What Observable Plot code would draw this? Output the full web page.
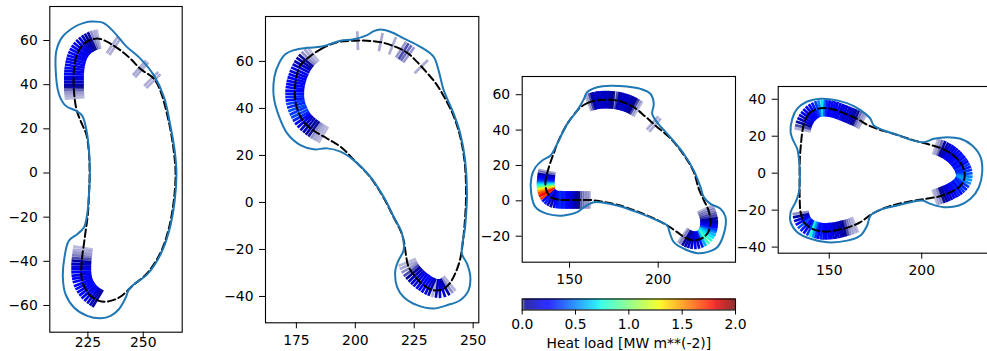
<!DOCTYPE html>
<html><head><meta charset="utf-8">
<script src="https://cdn.jsdelivr.net/npm/d3@7"></script>
<script src="https://cdn.jsdelivr.net/npm/@observablehq/plot@0.6"></script>
<style>
body{margin:0;background:#fff;}
#fig{position:relative;width:987px;height:351px;overflow:hidden;font-family:"DejaVu Sans",sans-serif;background:#fff;}
#fig > svg, #fig > figure{position:absolute;margin:0;}
</style></head><body><div id="fig"></div>
<script>
// ---------------- DATA ----------------
// Panel 1
const p1Wall = [[227.0,68.6],[232.2,67.9],[236.8,63.8],[242.0,57.7],[248.8,51.7],[254.9,44.1],[259.4,34.3],[262.4,20.7],[264.2,10.1],[265.0,0],[264.2,-12.6],[261.7,-26.2],[257.9,-36.7],[251.9,-45.8],[245.8,-50.4],[243.6,-52.6],[242.1,-56.4],[239.0,-61.7],[235.3,-64.7],[230.7,-65.8],[224.7,-64.7],[218.7,-60.9],[214.9,-54.9],[213.7,-47.3],[214.4,-38.3],[216.4,-30.7],[220.2,-27.7],[223.2,-24.7],[224.7,-18.6],[225.5,-9.5],[225.9,0],[225.5,10.1],[224.4,19.2],[222.4,26.0],[219.4,28.3],[214.9,30.5],[211.9,35.8],[210.4,47.9],[210.8,55.5],[213.4,61.5],[218.7,66.0],[223.2,68.0]];
const p1Sep = [[223.2,58.5],[227.7,60.7],[230.7,60.7],[235.3,58.5],[239.8,55.5],[244.3,51.7],[248.8,47.1],[254.9,42.6],[258.0,36.5],[261.8,22],[263.8,10],[264.6,0],[263.8,-12.6],[261.3,-26.2],[257.5,-36.7],[251.6,-45.6],[245.5,-50.8],[243.1,-53.1],[240.5,-55.5],[237.5,-57.2],[233.8,-58.2],[230.0,-57.9],[226.2,-55.6],[224.0,-52.6],[222.4,-48.8],[222.0,-44.3],[222.4,-38.3],[223.2,-32.2],[224.0,-26.2],[225.0,-18.6],[225.5,-9.5],[225.8,0],[225.4,10.1],[224.3,17.5],[222.4,22],[220.0,28.2],[218.7,37.3],[218.7,46.4],[220.2,53.9]];
const p1StrikeTop = [[219.0,34.0,.003],[218.9,35.2,.005],[218.8,36.4,.008],[218.7,37.6,.015],[218.7,38.8,.03],[218.7,40.0,.08],[218.7,41.2,.12],[218.7,42.4,.15],[218.7,43.6,.18],[218.7,44.8,.22],[218.8,46.0,.18],[218.9,47.2,.22],[219.1,48.4,.18],[219.3,49.6,.22],[219.6,50.8,.2],[219.9,52.0,.24],[220.3,53.1,.2],[220.8,54.2,.22],[221.4,55.2,.18],[222.1,56.2,.2],[222.9,57.1,.15],[223.8,57.9,.16],[224.8,58.6,.1],[225.8,59.2,.07],[226.8,59.7,.03],[227.8,60.1,.01],[228.8,60.4,.005],[229.8,60.6,.003]];
const p1StrikeBottom = [[222.8,-34.0,.003],[222.6,-35.2,.005],[222.5,-36.4,.008],[222.3,-37.6,.012],[222.2,-38.8,.02],[222.1,-40.0,.06],[222.0,-41.2,.12],[222.0,-42.4,.15],[222.0,-43.6,.18],[222.0,-44.8,.22],[222.1,-46.0,.18],[222.3,-47.2,.22],[222.5,-48.4,.2],[222.9,-49.6,.24],[223.4,-50.7,.26],[224.0,-51.8,.22],[224.7,-52.8,.26],[225.5,-53.8,.18],[226.4,-54.7,.22],[227.4,-55.5,.14],[228.4,-56.2,.1],[229.4,-56.8,.06]];
const p1StrikeIso = [[[236.0,58.0,.005],[237.2,57.2,.005]],[[248.3,47.6,.005],[249.3,46.7,.005]],[[253.6,42.6,.005],[254.6,41.6,.005]]];

// Panel 2
const p2Wall = [[173.9,64.8],[179.6,65.8],[185.2,66.2],[189.4,67.4],[193.7,68.8],[199.3,69.4],[205.0,71.2],[207.8,72.9],[210.6,73.6],[214.9,72.6],[220.5,69.8],[227.6,66.2],[233.2,62.0],[235.3,56.3],[237.5,47.8],[241.7,37.9],[244.5,29.4],[246.6,18.0],[247.4,3.8],[246.6,-10.4],[245.2,-21.7],[247.4,-26.0],[248.8,-31.6],[248.1,-37.3],[244.5,-41.6],[238.9,-43.7],[233.2,-45.1],[226.2,-43.7],[220.5,-40.2],[217.7,-35.9],[217.0,-28.8],[218.4,-24.5],[220.5,-20.3],[219.8,-13.2],[216.3,-6.1],[212.0,2.4],[206.4,10.9],[199.3,18.0],[193.7,21.6],[188.0,23.0],[182.4,22.6],[176.7,24.4],[171.1,29.4],[167.6,36.7],[165.4,45.0],[165.7,53.5],[167.6,59.1],[170.4,63.1]];
const p2Sep = [[181.0,62.3],[185.2,65.1],[189.4,67.2],[193.7,68.4],[199.3,68.8],[205.0,68.8],[210.6,68.2],[216.3,66.5],[222.0,63.7],[226.2,59.8],[230.4,55.2],[233.9,51.0],[236.8,46.5],[241.3,37.8],[244.2,29.2],[246.3,18],[247.0,4],[246.3,-10.4],[245.0,-21.5],[244.2,-25.3],[242.4,-30.2],[240.0,-34.5],[236.8,-37.0],[233.2,-37.3],[229.0,-35.2],[225.5,-31.6],[222.6,-27.4],[221.5,-22.4],[220.8,-17.5],[219.6,-13],[216.1,-6],[211.8,2.4],[206.2,10.9],[200.0,17.5],[193.7,23.7],[188.0,27.2],[182.4,30.5],[178.1,34.3],[175.3,40.0],[174.3,46.4],[174.9,52.8],[176.7,58.4]];
const p2StrikeLeft = [[182.0,63.0,.003],[181.0,62.2,.006],[180.0,61.3,.01],[179.1,60.3,.03],[178.3,59.3,.07],[177.6,58.2,.12],[177.0,57.0,.15],[176.4,55.8,.2],[175.9,54.6,.16],[175.5,53.4,.22],[175.1,52.2,.2],[174.8,51.0,.25],[174.6,49.8,.22],[174.4,48.6,.26],[174.3,47.4,.22],[174.3,46.2,.28],[174.3,45.0,.32],[174.4,43.8,.28],[174.6,42.6,.36],[174.9,41.4,.32],[175.3,40.2,.4],[175.8,39.0,.35],[176.4,37.8,.38],[177.0,36.6,.32],[177.7,35.5,.24],[178.5,34.5,.18],[179.4,33.6,.12],[180.4,32.8,.09],[181.4,32.0,.06],[182.4,31.3,.03],[183.4,30.6,.01],[184.4,30.0,.006],[185.4,29.4,.004],[186.4,28.8,.003]];
const p2StrikeBottom = [[222.0,-25.5,.003],[222.5,-26.7,.006],[223.1,-27.9,.01],[223.8,-29.0,.02],[224.6,-30.0,.06],[225.5,-31.0,.1],[226.4,-31.9,.14],[227.3,-32.7,.16],[228.3,-33.5,.2],[229.3,-34.2,.25],[230.3,-34.9,.2],[231.4,-35.5,.15],[232.5,-36.0,.1],[233.6,-36.4,.005],[234.7,-36.6,.1],[235.8,-36.7,.14],[236.9,-36.5,.15],[238.0,-36.0,.07],[239.0,-35.3,.01],[240.0,-34.5,.004]];
const p2StrikeIso = [[[201.0,68.8,.005]],[[210.8,68.2,.006]],[[215.8,66.7,.005]],[[219.4,65.0,.008],[220.5,64.3,.02],[221.6,63.6,.015],[222.7,62.8,.008]],[[228.0,57.8,.005]]];

// Panel 3
const p3Wall = [[159.9,61.4],[165.6,64.2],[173.1,65.1],[182.5,64.6],[190.0,63.3],[195.7,60.4],[197.5,54.8],[196.6,49.1],[199.4,44.4],[206.9,35.9],[214.5,26.5],[220.1,17.1],[223.9,7.7],[225.7,2.1],[229.5,-1.7],[235.1,-4.5],[238.0,-9.2],[237.0,-18.7],[233.3,-26.2],[227.6,-29.0],[222.0,-29.6],[214.5,-27.1],[208.8,-23.4],[206.4,-17.7],[205.1,-14.0],[199.4,-11.1],[188.1,-6.4],[176.9,-2.6],[167.5,-0.8],[163.7,-0.8],[159.0,-3.0],[154.3,-6.4],[146.8,-8.3],[137.4,-7.4],[130.8,-3.6],[128.4,4.0],[128.5,13.4],[130.8,19.0],[134.6,22.8],[139.3,25.6],[143.0,32.2],[148.7,43.5],[154.3,51.0],[158.1,57.6]];
const p3Sep = [[156.2,52.9],[160.0,55.2],[164.6,56.7],[171.2,57.2],[178.7,56.3],[186.3,52.9],[192.8,47.6],[198.5,42.5],[206.6,35.6],[214.2,26.3],[219.8,17],[222.9,6.8],[225.8,0.2],[228.4,-5.5],[229.5,-12.1],[228.2,-17.7],[225.2,-20.9],[220.5,-22.4],[215.4,-20.9],[210.7,-17.7],[205.4,-14.1],[199.4,-10.8],[188.1,-6.0],[176.9,-2.2],[167.5,-0.3],[162.8,0.4],[156.2,0.5],[149.6,0.5],[143.4,0.7],[139.3,2.2],[137.0,5.8],[136.4,10.5],[137.8,17.1],[139.6,22.8],[141.5,28.0],[143.0,32.2],[148.7,43.5],[154.3,51]];
const p3StrikeTop = [[160.5,55.4,.003],[161.5,55.8,.005],[162.5,56.1,.02],[163.5,56.4,.07],[164.5,56.7,.1],[165.5,56.9,.13],[166.5,57.0,.1],[167.5,57.1,.13],[168.5,57.2,.11],[169.5,57.2,.13],[170.5,57.2,.1],[171.5,57.2,.12],[172.5,57.2,.09],[173.5,57.1,.06],[174.5,57.0,.03],[175.5,56.9,.004],[176.5,56.8,.02],[177.5,56.6,.07],[178.5,56.4,.1],[179.5,56.1,.13],[180.5,55.8,.11],[181.5,55.5,.13],[182.5,55.2,.1],[183.5,54.8,.09],[184.5,54.3,.07],[185.5,53.8,.04],[186.5,53.2,.02],[187.5,52.6,.005],[188.5,52.0,.003]];
const p3StrikeLeft = [[137.3,16.5,.005],[137.1,15.5,.01],[136.9,14.5,.06],[136.8,13.5,.14],[136.7,12.5,.22],[136.6,11.5,.32],[136.5,10.5,.45],[136.5,9.6,.65],[136.5,8.7,.8],[136.6,7.9,1.0],[136.7,7.1,1.25],[136.8,6.3,1.45],[137.0,5.5,1.65],[137.3,4.6,1.8],[137.8,3.7,1.7],[138.4,2.9,0.25],[139.1,2.2,0.3],[140.0,1.6,0.14],[141.0,1.1,0.1],[142.1,0.8,0.22],[143.2,0.7,0.28],[144.3,0.6,0.32],[145.3,0.6,0.32],[146.3,0.5,0.28],[147.3,0.5,0.32],[148.3,0.5,0.25],[149.3,0.5,0.22],[150.3,0.5,0.18],[151.3,0.5,0.15],[152.3,0.5,0.12],[153.3,0.5,0.09],[154.3,0.5,0.06],[155.3,0.5,0.03],[156.3,0.5,0.01],[157.3,0.5,0.008],[158.3,0.5,0.005],[159.3,0.5,0.005],[160.3,0.5,0.004],[161.3,0.5,0.003]];
const p3StrikeRight = [[226.6,-4.5,.003],[227.1,-5.5,.005],[227.5,-6.5,.008],[227.9,-7.5,.01],[228.2,-8.5,.015],[228.5,-9.5,.02],[228.7,-10.5,.06],[228.8,-11.5,.09],[228.8,-12.5,.12],[228.7,-13.5,.18],[228.6,-14.5,.26],[228.4,-15.5,.36],[228.1,-16.5,.5],[227.8,-17.5,.6],[227.2,-18.5,.7],[226.5,-19.6,.8],[225.6,-20.5,.85],[224.5,-21.2,.6],[223.3,-21.8,.3],[222.0,-22.2,.16],[220.8,-22.4,.22],[219.5,-22.3,.12],[218.3,-22.0,.14],[217.2,-21.6,.09],[216.1,-21.0,.05],[215.0,-20.3,.01],[214.0,-19.6,.005]];
const p3StrikeIso = [[[196.8,44.0,.005],[198.2,42.8,.005]]];

// Panel 4
const p4Wall = [[145.3,40.3],[154.3,39.4],[163.3,36.3],[169.6,32.1],[172.3,29.4],[174.1,25.8],[179.5,23.1],[186.7,20.8],[194.0,18.1],[201.2,16.8],[206.6,18.6],[213.8,19.5],[221.0,18.6],[227.3,15.0],[231.8,8.7],[232.7,0.5],[230.9,-7.6],[226.4,-13.9],[220.1,-17.5],[212.0,-18.4],[204.8,-16.6],[200.3,-14.8],[194.0,-15.7],[186.7,-17.5],[177.7,-19.7],[172.3,-22.9],[170.5,-28.3],[166.9,-33.7],[159.7,-36.5],[148.9,-37.4],[139.9,-35.5],[132.7,-31.9],[129.1,-26.5],[129.1,-21.1],[131.8,-15.7],[133.6,-10.3],[134.1,-1.3],[133.6,7.8],[132.7,13.2],[130.5,17.7],[129.1,22.2],[130.0,29.4],[132.7,34.9],[138.1,38.8]];
const p4Sep = [[136.6,27.6],[139.0,32.1],[142.6,34.5],[147.1,35.2],[152.5,34.5],[158.8,32.1],[165.1,29.4],[170.5,26.2],[175.9,24.0],[183.1,21.8],[190.3,19.5],[197.6,17.2],[204.8,15.3],[211.1,13.2],[216.5,10.1],[220.6,6.0],[223.1,0.9],[222.8,-3.9],[220.1,-7.6],[215.6,-10.3],[209.3,-12.6],[202.1,-13.9],[194.0,-15.2],[186.7,-16.8],[179.5,-19.0],[172.3,-22.6],[166.9,-26.5],[160.6,-29.2],[153.4,-31.0],[147.1,-31.6],[140.8,-30.1],[136.3,-26.5],[134.5,-21.1],[134.0,-12.1],[134.0,-1.3],[134.1,7.8],[134.8,16.8],[135.4,22.2]];
const p4StrikeTop = [[135.6,23.5,.005],[135.9,25.0,.02],[136.3,26.5,.07],[136.9,28.0,.13],[137.6,29.3,.16],[138.4,30.6,.2],[139.3,31.7,.25],[140.3,32.7,.22],[141.4,33.5,.26],[142.6,34.2,.3],[143.8,34.7,.36],[145.0,35.0,.5],[146.2,35.2,.7],[147.4,35.2,.45],[148.6,35.1,.3],[149.8,35.0,.25],[151.0,34.8,.22],[152.2,34.5,.26],[153.4,34.2,.2],[154.6,33.8,.24],[155.8,33.3,.16],[157.0,32.8,.2],[158.2,32.4,.13],[159.4,31.9,.16],[160.6,31.4,.1],[161.8,30.9,.12],[163.0,30.4,.07],[164.2,29.9,.03],[165.4,29.3,.015],[166.6,28.6,.008],[167.8,27.9,.004]];
const p4StrikeBottom = [[134.6,-21.5,.01],[134.8,-23.0,.07],[135.2,-24.5,.15],[135.8,-25.8,.25],[136.6,-27.0,.4],[137.6,-28.1,.3],[138.7,-29.0,.25],[139.9,-29.7,.35],[141.1,-30.2,.75],[142.3,-30.6,.55],[143.5,-30.9,.35],[144.7,-31.2,.25],[145.9,-31.4,.3],[147.1,-31.5,.25],[148.3,-31.5,.2],[149.5,-31.4,.25],[150.7,-31.3,.2],[151.9,-31.2,.16],[153.1,-31.0,.13],[154.3,-30.8,.15],[155.5,-30.5,.1],[156.7,-30.2,.07],[157.9,-29.9,.04],[159.1,-29.6,.02],[160.3,-29.3,.01],[161.5,-28.9,.006],[162.7,-28.4,.004],[163.9,-27.9,.003]];
const p4StrikeRight = [[207.5,14.4,.003],[208.7,14.0,.006],[209.9,13.6,.015],[211.1,13.2,.05],[212.3,12.6,.1],[213.4,12.0,.13],[214.5,11.3,.2],[215.5,10.6,.16],[216.5,9.9,.25],[217.4,9.1,.2],[218.3,8.2,.25],[219.1,7.3,.3],[219.9,6.4,.25],[220.6,5.4,.3],[221.3,4.3,.25],[221.9,3.2,.35],[222.4,2.0,.3],[222.8,0.8,.35],[223.0,-0.4,.4],[223.0,-1.6,.5],[222.8,-2.8,.55],[222.4,-4.0,.5],[221.8,-5.1,.35],[221.0,-6.1,.3],[220.1,-7.0,.35],[219.1,-7.8,.25],[218.0,-8.5,.3],[216.9,-9.2,.2],[215.7,-9.8,.25],[214.5,-10.4,.13],[213.3,-10.9,.15],[212.1,-11.4,.07],[210.9,-11.9,.03],[209.7,-12.3,.01],[208.5,-12.7,.005],[207.3,-13.1,.003]];

// Axes ticks and colorbar
const p1XTicks = [225, 250], p1YTicks = [-60, -40, -20, 0, 20, 40, 60];
const p2XTicks = [175, 200, 225, 250], p2YTicks = [-40, -20, 0, 20, 40, 60];
const p3XTicks = [150, 200], p3YTicks = [-20, 0, 20, 40, 60];
const p4XTicks = [150, 200], p4YTicks = [-40, -20, 0, 20, 40];
const cbTicks = [0, 0.5, 1.0, 1.5, 2.0];
const cbDomain = [0, 2];
const cbLabel = "Heat load [MW m**(-2)]";

// ---------------- HELPERS ----------------
const jetR = [[0,0],[0.35,0],[0.66,1],[0.89,1],[1,0.5]];
const jetG = [[0,0],[0.125,0],[0.375,1],[0.64,1],[0.91,0],[1,0]];
const jetB = [[0,0.5],[0.11,1],[0.34,1],[0.65,0],[1,0]];
function pw(stops, t) {
  t = Math.max(0, Math.min(1, t));
  for (let i = 1; i < stops.length; i++) {
    if (t <= stops[i][0]) {
      const [a0, v0] = stops[i-1], [a1, v1] = stops[i];
      return v0 + (v1 - v0) * (t - a0) / (a1 - a0);
    }
  }
  return stops[stops.length-1][1];
}
function jet(t) {
  return d3.rgb(255*pw(jetR,t), 255*pw(jetG,t), 255*pw(jetB,t)).formatHex();
}
const alpha = v => Math.min(1, 0.2 + v * 25);
const fmt = d => d < 0 ? "\u2212" + Math.abs(d) : String(d);

function ticksFrom(strikes, sep, L) {
  const out = [];
  for (const s of strikes) {
    s.forEach((p, i) => {
      let tx, ty;
      if (s.length > 1) {
        const a = s[Math.max(0, i-1)], b = s[Math.min(s.length-1, i+1)];
        tx = b[0]-a[0]; ty = b[1]-a[1];
      } else {
        let k = 0, best = Infinity;
        sep.forEach((q, j) => { const d = (q[0]-p[0])**2 + (q[1]-p[1])**2; if (d < best) { best = d; k = j; } });
        const a = sep[(k-1+sep.length)%sep.length], b = sep[(k+1)%sep.length];
        tx = b[0]-a[0]; ty = b[1]-a[1];
      }
      const n = Math.hypot(tx, ty), nx = -ty/n, ny = tx/n;
      out.push({x1: p[0]-nx*L/2, y1: p[1]-ny*L/2, x2: p[0]+nx*L/2, y2: p[1]+ny*L/2, v: p[2]});
    });
  }
  return out;
}

const fig = document.getElementById("fig");
const style = {background: "none", fontFamily: "DejaVu Sans, sans-serif", fontSize: "13.9px", overflow: "visible", color: "black"};
const colorOpt = {type: "linear", domain: cbDomain, interpolate: jet, clamp: true};

function panel(cfg) {
  const segs = ticksFrom(cfg.strikes, cfg.sep, cfg.L);
  const p = Plot.plot({
    width: cfg.w, height: cfg.h,
    marginLeft: cfg.ml, marginRight: cfg.mr, marginTop: cfg.mt, marginBottom: cfg.mb,
    style,
    x: {domain: cfg.xd}, y: {domain: cfg.yd},
    color: colorOpt,
    marks: [
      Plot.link(segs, {x1: "x1", y1: "y1", x2: "x2", y2: "y2", stroke: "v", strokeOpacity: d => alpha(d.v), strokeWidth: 2.7}),
      Plot.line(cfg.sep, {x: d => d[0], y: d => d[1], curve: "catmull-rom-closed", stroke: "black", strokeWidth: 2, strokeDasharray: "7.5,3.5"}),
      Plot.line(cfg.wall, {x: d => d[0], y: d => d[1], curve: "catmull-rom-closed", stroke: "#1f77b4", strokeWidth: 2}),
      Plot.frame({stroke: "black", strokeWidth: 1.1}),
      Plot.axisX({ticks: cfg.xt, tickSize: 6, tickPadding: cfg.xpad ?? 6, label: null, tickFormat: fmt}),
      Plot.axisY({ticks: cfg.yt, tickSize: 6, tickPadding: 6, label: null, tickFormat: fmt})
    ]
  });
  p.style.left = cfg.left + "px"; p.style.top = cfg.top + "px";
  fig.appendChild(p);
}

panel({left: 0, top: 0, w: 200, h: 351, ml: 49.3, mr: 18.3, mt: 6, mb: 19.3, xpad: -1.5,
  xd: [207.8, 267.6], yd: [-72.1, 75.4], xt: p1XTicks, yt: p1YTicks,
  wall: p1Wall, sep: p1Sep, strikes: [p1StrikeTop, p1StrikeBottom, ...p1StrikeIso], L: 9});
panel({left: 210, top: 0, w: 290, h: 351, ml: 55, mr: 21.7, mt: 16, mb: 28.7,
  xd: [161.9, 252.4], yd: [-51.2, 79.1], xt: p2XTicks, yt: p2YTicks,
  wall: p2Wall, sep: p2Sep, strikes: [p2StrikeLeft, p2StrikeBottom, ...p2StrikeIso], L: 8});
panel({left: 480, top: 0, w: 270, h: 290, ml: 41.7, mr: 15, mt: 76, mb: 28.3,
  xd: [123.3, 243.6], yd: [-34.7, 70.3], xt: p3XTicks, yt: p3YTicks,
  wall: p3Wall, sep: p3Sep, strikes: [p3StrikeTop, p3StrikeLeft, p3StrikeRight, ...p3StrikeIso], L: 10});
panel({left: 740, top: 0, w: 250, h: 351, ml: 37.7, mr: 2, mt: 86, mb: 98.3,
  xd: [122.4, 236.1], yd: [-43.3, 46.9], xt: p4XTicks, yt: p4YTicks,
  wall: p4Wall, sep: p4Sep, strikes: [p4StrikeTop, p4StrikeBottom, p4StrikeRight], L: 9});

// Colorbar
const cbSteps = d3.range(cbDomain[0], cbDomain[1], 0.005);
const cb = Plot.plot({
  width: 270, height: 61, marginLeft: 41.7, marginRight: 15, marginTop: 8.5, marginBottom: 41.5,
  style,
  x: {domain: cbDomain}, y: {domain: [0, 1], axis: null},
  color: colorOpt,
  marks: [
    Plot.rect(cbSteps, {x1: d => d, x2: d => d + 0.006, y1: 0, y2: 1, fill: d => d + 0.0025, fillOpacity: d => alpha(d + 0.0025)}),
    Plot.frame({stroke: "black", strokeWidth: 1.1}),
    Plot.axisX({ticks: cbTicks, tickSize: 5, tickPadding: 4, tickFormat: d3.format(".1f"), label: null}),
    Plot.text([cbLabel], {text: d => d, frameAnchor: "bottom", dy: 38, fontSize: 13.9})
  ]
});
cb.style.left = "480px"; cb.style.top = "290px";
fig.appendChild(cb);
</script></body></html>
